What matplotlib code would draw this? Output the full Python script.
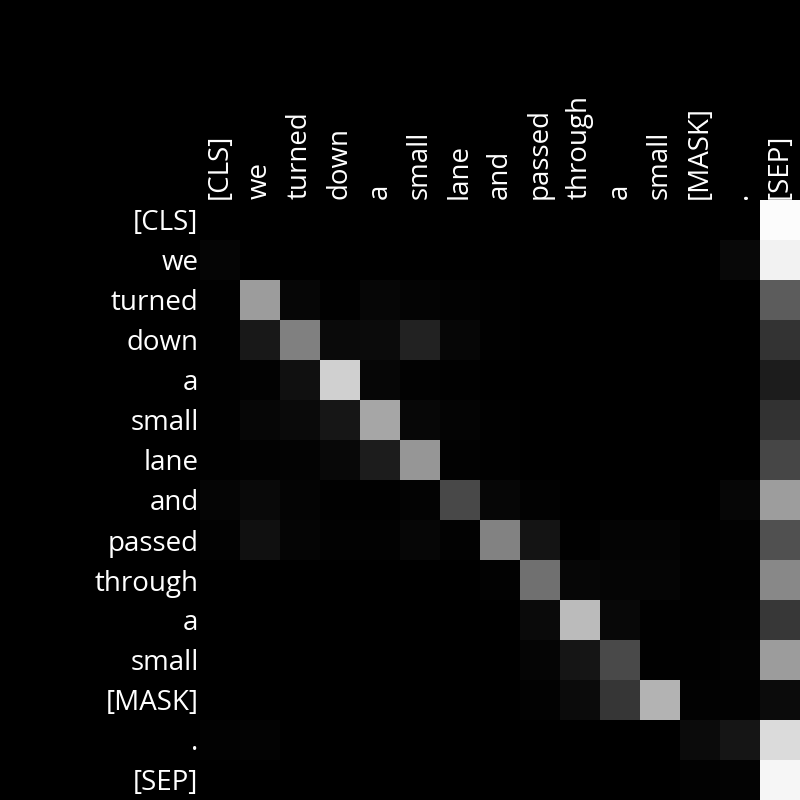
import numpy as np
import matplotlib
matplotlib.use("Agg")
import matplotlib.pyplot as plt

tokens = ["[CLS]", "we", "turned", "down", "a", "small", "lane", "and",
          "passed", "through", "a", "small", "[MASK]", ".", "[SEP]"]

# attention weights (grey level / 255)
row_cls     = [0, 0, 0, 0, 0, 0, 0, 0, 0, 0, 0, 0, 0, 0, 252]
row_we      = [5, 0, 0, 0, 0, 0, 0, 0, 0, 0, 0, 0, 0, 8, 242]
row_turned  = [1, 156, 6, 1, 6, 4, 2, 1, 0, 0, 0, 0, 0, 0, 92]
row_down    = [1, 24, 128, 10, 11, 34, 6, 1, 0, 0, 0, 0, 0, 0, 51]
row_a1      = [1, 2, 16, 208, 6, 2, 1, 0, 0, 0, 0, 0, 0, 0, 28]
row_small1  = [1, 6, 10, 22, 166, 7, 4, 1, 0, 0, 0, 0, 0, 0, 50]
row_lane    = [1, 2, 3, 8, 28, 150, 2, 1, 0, 0, 0, 0, 0, 0, 70]
row_and     = [5, 9, 4, 1, 1, 3, 72, 6, 2, 0, 0, 0, 0, 6, 157]
row_passed  = [2, 16, 5, 2, 2, 6, 2, 130, 20, 1, 4, 4, 1, 2, 80]
row_through = [0, 0, 0, 0, 0, 0, 0, 2, 112, 6, 5, 5, 1, 1, 136]
row_a2      = [0, 0, 0, 0, 0, 0, 0, 0, 10, 187, 8, 1, 1, 2, 55]
row_small2  = [0, 0, 0, 0, 0, 0, 0, 0, 5, 21, 74, 1, 1, 3, 156]
row_mask    = [0, 0, 0, 0, 0, 0, 0, 0, 2, 11, 54, 179, 2, 2, 11]
row_dot     = [2, 3, 0, 0, 0, 0, 0, 0, 0, 0, 0, 0, 11, 21, 219]
row_sep     = [0, 0, 0, 0, 0, 0, 0, 0, 0, 0, 0, 0, 2, 3, 246]

rows = [row_cls, row_we, row_turned, row_down, row_a1, row_small1, row_lane,
        row_and, row_passed, row_through, row_a2, row_small2, row_mask,
        row_dot, row_sep]
attn = np.array(rows, dtype=float) / 255.0

plt.rcParams['font.family'] = ['Open Sans', 'DejaVu Sans']

fig = plt.figure(figsize=(8, 8), dpi=100, facecolor="black")
ax = fig.add_axes([0.25, 0.0, 0.75, 0.75])
ax.set_facecolor("black")
ax.imshow(attn, cmap="gray", vmin=0, vmax=1, aspect="auto",
          interpolation="nearest")
ax.set_xticks(range(len(tokens)))
ax.set_yticks(range(len(tokens)))
ax.set_xticklabels(tokens, rotation=90, color="white", fontsize=20)
ax.set_yticklabels(tokens, color="white", fontsize=20)
ax.xaxis.tick_top()
ax.tick_params(length=0, pad=1)
for s in ax.spines.values():
    s.set_visible(False)

fig.savefig("out.png", dpi=100, facecolor="black")
